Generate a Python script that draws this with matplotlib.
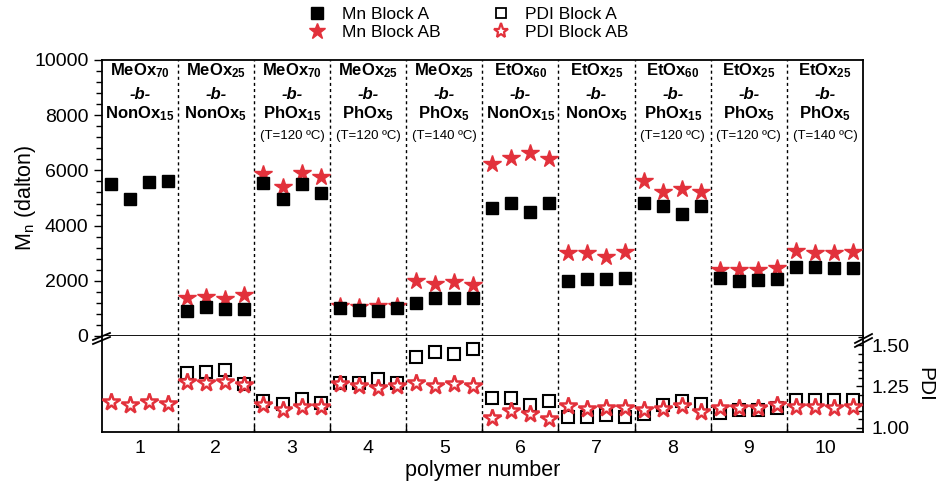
import matplotlib
matplotlib.use('Agg')
import matplotlib.pyplot as plt
import numpy as np
from matplotlib.lines import Line2D
from matplotlib.ticker import MultipleLocator, FixedLocator, NullFormatter
import matplotlib.transforms as mtransforms

plt.rcParams['font.family'] = ['Liberation Sans', 'DejaVu Sans']
plt.rcParams['mathtext.fontset'] = 'custom'
plt.rcParams['mathtext.rm'] = 'Liberation Sans'
plt.rcParams['mathtext.bf'] = 'Liberation Sans:bold'
plt.rcParams['mathtext.it'] = 'Liberation Sans:italic'

# ---------------- data ----------------
polymers = [1, 2, 3, 4, 5, 6, 7, 8, 9, 10]
nan = np.nan
mn_block_a = [
    [5500, 4950, 5580, 5610],
    [910, 1040, 990, 970],
    [5530, 4950, 5500, 5190],
    [1025, 940, 905, 1000],
    [1210, 1365, 1365, 1365],
    [4630, 4810, 4505, 4810],
    [1990, 2050, 2065, 2110],
    [4810, 4710, 4420, 4710],
    [2110, 2005, 2030, 2065],
    [2490, 2490, 2450, 2450],
]
mn_block_ab = [
    [nan, nan, nan, nan],
    [1365, 1425, 1340, 1485],
    [5870, 5410, 5895, 5770],
    [1085, 1065, 1075, 1095],
    [1990, 1885, 1955, 1860],
    [6230, 6440, 6620, 6410],
    [2995, 2995, 2875, 3055],
    [5630, 5210, 5310, 5210],
    [2390, 2400, 2390, 2475],
    [3080, 3020, 3020, 3030],
]
pdi_block_a = [
    [nan, nan, nan, nan],
    [1.329, 1.335, 1.349, 1.268],
    [1.160, 1.142, 1.172, 1.152],
    [1.274, 1.274, 1.293, 1.274],
    [1.427, 1.457, 1.447, 1.477],
    [1.181, 1.181, 1.140, 1.162],
    [1.065, 1.065, 1.075, 1.065],
    [1.085, 1.136, 1.162, 1.142],
    [1.089, 1.105, 1.105, 1.116],
    [1.166, 1.166, 1.166, 1.166],
]
pdi_block_ab = [
    [1.156, 1.136, 1.156, 1.146],
    [1.278, 1.272, 1.278, 1.258],
    [1.136, 1.105, 1.126, 1.126],
    [1.264, 1.252, 1.242, 1.252],
    [1.272, 1.252, 1.262, 1.254],
    [1.061, 1.099, 1.085, 1.055],
    [1.130, 1.110, 1.120, 1.120],
    [1.105, 1.110, 1.130, 1.095],
    [1.116, 1.120, 1.120, 1.136],
    [1.126, 1.126, 1.116, 1.126],
]
first_block = ['MeOx', 'MeOx', 'MeOx', 'MeOx', 'MeOx', 'EtOx', 'EtOx', 'EtOx', 'EtOx', 'EtOx']
first_dp = ['70', '25', '70', '25', '25', '60', '25', '60', '25', '25']
second_block = ['NonOx', 'NonOx', 'PhOx', 'PhOx', 'PhOx', 'NonOx', 'NonOx', 'PhOx', 'PhOx', 'PhOx']
second_dp = ['15', '5', '15', '5', '5', '15', '5', '15', '5', '5']
temps = ['', '', '(T=120 ºC)', '(T=120 ºC)', '(T=140 ºC)', '', '', '(T=120 ºC)', '(T=120 ºC)', '(T=140 ºC)']
sample_offsets = [-0.375, -0.125, 0.125, 0.375]

RED = '#e2313b'

fig = plt.figure(figsize=(9.43, 4.84), dpi=100)
L, W = 101.7 / 943, (863 - 101.7) / 943
ax_top = fig.add_axes([L, (484 - 336) / 484, W, 276 / 484])
ax_bot = fig.add_axes([L, (484 - 432) / 484, W, 96 / 484], sharex=ax_top)

xs = np.array([[p + o for o in sample_offsets] for p in polymers]).ravel()
mnA = np.array(mn_block_a).ravel()
mnAB = np.array(mn_block_ab).ravel()
pdA = np.array(pdi_block_a).ravel()
pdAB = np.array(pdi_block_ab).ravel()

ax_top.plot(xs, mnAB, ls='none', marker='*', ms=13, color=RED, mec=RED, zorder=3)
ax_top.plot(xs, mnA, ls='none', marker='s', ms=8.5, color='black', zorder=4)

ax_bot.plot(xs, pdA, ls='none', marker='s', ms=8.5, mfc='none', mec='black', mew=1.5, zorder=3)
ax_bot.plot(xs, pdAB, ls='none', marker='*', ms=13, mfc='white', mec=RED, mew=1.8, zorder=4)

for ax in (ax_top, ax_bot):
    for b in np.arange(1.5, 10.5, 1.0):
        ax.axvline(b, color='black', lw=1.0, ls=(0, (2.2, 2.2)), zorder=1)
    ax.set_xlim(0.5, 10.5)

# top axes
ax_top.set_ylim(0, 10000)
ax_top.yaxis.set_major_locator(MultipleLocator(2000))
ax_top.yaxis.set_minor_locator(MultipleLocator(400))
ax_top.tick_params(axis='y', which='major', direction='out', length=6, width=1, labelsize=14)
ax_top.tick_params(axis='y', which='minor', direction='out', length=4, width=1)
ax_top.tick_params(axis='x', which='both', bottom=False, labelbottom=False)
for s in ax_top.spines.values():
    s.set_linewidth(1.3)
ax_top.set_ylabel(r'M$_\mathrm{n}$ (dalton)', fontsize=15.5, labelpad=-3)

# bottom axes
ax_bot.set_ylim(0.973, 1.557)
ax_bot.spines['top'].set_visible(False)
for s in ax_bot.spines.values():
    s.set_linewidth(1.3)
ax_bot.yaxis.tick_right()
ax_bot.yaxis.set_label_position('right')
ax_bot.yaxis.set_major_locator(FixedLocator([1.00, 1.25, 1.50]))
ax_bot.yaxis.set_minor_locator(MultipleLocator(0.05))
ax_bot.set_yticklabels(['1.00', '1.25', '1.50'])
ax_bot.tick_params(axis='y', which='major', direction='in', length=5, width=1, labelsize=14, pad=6)
ax_bot.tick_params(axis='y', which='minor', direction='in', length=3.5, width=1)
ax_bot.set_ylabel('PDI', fontsize=15, rotation=270, labelpad=18)

ax_bot.xaxis.set_major_locator(FixedLocator(np.arange(1.5, 10.5, 1.0)))
ax_bot.xaxis.set_major_formatter(NullFormatter())
ax_bot.xaxis.set_minor_locator(FixedLocator(polymers))
ax_bot.set_xticklabels([str(p) for p in polymers], minor=True)
ax_bot.tick_params(axis='x', which='major', direction='in', length=5, width=1)
ax_bot.tick_params(axis='x', which='minor', length=0, labelsize=14, pad=6)
ax_bot.set_xlabel('polymer number', fontsize=15.5, labelpad=2)

# group annotations
trans = mtransforms.blended_transform_factory(ax_top.transData, ax_top.transAxes)
for i, p in enumerate(polymers):
    ax_top.text(p, 0.946, r'$\mathbf{%s}_{\mathbf{%s}}$' % (first_block[i], first_dp[i]),
                transform=trans, ha='center', va='baseline', fontsize=12)
    ax_top.text(p, 0.859, '-b-', transform=trans, ha='center', va='baseline',
                fontsize=12, fontweight='bold', fontstyle='italic')
    ax_top.text(p, 0.790, r'$\mathbf{%s}_{\mathbf{%s}}$' % (second_block[i], second_dp[i]),
                transform=trans, ha='center', va='baseline', fontsize=12)
    if temps[i]:
        ax_top.text(p, 0.712, temps[i], transform=trans, ha='center', va='baseline', fontsize=9.5)

# break marks
def fline(x0, y0, x1, y1):
    fig.add_artist(Line2D([x0 / 943, x1 / 943], [1 - y0 / 484, 1 - y1 / 484],
                          transform=fig.transFigure, color='black', lw=1.3))
fline(93, 340, 110, 333)
fline(93, 344, 110, 337)
fline(855, 343, 872, 334)
fline(855, 347, 872, 338)

# legend
handles = [
    Line2D([], [], ls='none', marker='s', ms=8, color='black'),
    Line2D([], [], ls='none', marker='*', ms=12, color=RED),
    Line2D([], [], ls='none', marker='s', ms=7, mfc='none', mec='black', mew=1.3),
    Line2D([], [], ls='none', marker='*', ms=11, mfc='white', mec=RED, mew=1.6),
]
labels = ['Mn Block A', 'Mn Block AB', 'PDI Block A', 'PDI Block AB']
fig.legend(handles, labels, ncol=2, loc='upper center', bbox_to_anchor=(0.497, 1.01),
           frameon=False, fontsize=12.5, handlelength=1.0, handletextpad=0.9,
           columnspacing=3.0, labelspacing=0.15, borderpad=0.2)

fig.savefig('out.png', dpi=100)
